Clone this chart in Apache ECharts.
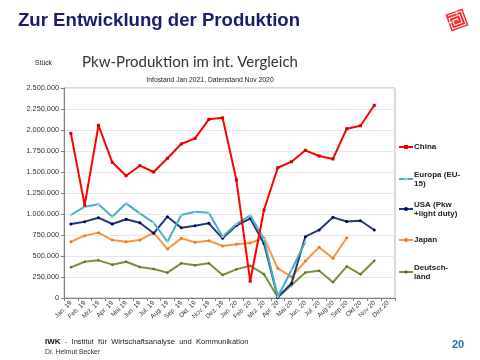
<!DOCTYPE html>
<html><head><meta charset="utf-8">
<script src="https://cdn.jsdelivr.net/npm/echarts@6/dist/echarts.min.js"></script>
<style>html,body{margin:0;padding:0;background:#fff}#c{width:480px;height:360px}</style>
</head><body><div id="c"></div>
<script>
var categories = ["Jan. 19","Feb. 19","Mrz. 19","Apr. 19","Mai 19","Jun. 19","Jul. 19","Aug. 19","Sep. 19","Okt. 19","Nov. 19","Dez. 19","Jan. 20","Feb. 20","Mrz. 20","Apr. 20","Mai 20","Jun. 20","Jul. 20","Aug 20","Sep 20","Okt 20","Nov 20","Dez 20"];
var china = [1960000,1105000,2055000,1615000,1456000,1575000,1500000,1663000,1833000,1900000,2127000,2145000,1405000,200000,1048000,1551000,1623000,1758000,1690000,1655000,2016000,2050000,2294000,null];
var europa = [988000,1087000,1115000,968000,1127000,1008000,896000,670000,988000,1027000,1015000,730000,880000,985000,700000,15000,333000,670000,null,null,null,null,null,null];
var usa = [881000,909000,956000,881000,937000,896000,770000,968000,837000,861000,889000,710000,863000,945000,650000,8000,175000,730000,810000,960000,910000,920000,810000,null];
var japan = [670000,742000,778000,690000,670000,690000,778000,583000,710000,663000,682000,619000,640000,655000,715000,353000,250000,440000,605000,472000,718000,null,null,null];
var deutschland = [365000,432000,448000,397000,432000,369000,345000,302000,413000,389000,413000,274000,341000,383000,284000,8000,155000,304000,325000,187000,377000,282000,444000,null];
var seriesNames = ["China","Europa (EU-15)","USA (Pkw +light duty)","Japan","Deutschland"];
var legendLabels = ["China","Europa (EU-\n15)","USA (Pkw\n+light duty)","Japan","Deutsch-\nland"];
var yTicks = {min:0, max:2500000, interval:250000};

var FF = '"Liberation Sans", Arial, sans-serif';
var chart = echarts.init(document.getElementById('c'), null, {renderer:'canvas'});

function fmt(v){ return String(v).replace(/\B(?=(\d{3})+(?!\d))/g,'.'); }

var colors = ['#ff0000','#4bacc6','#1f3a78','#f79646','#77933c'];
var symColors = ['#d00000','#8fd6ee','#000060','#f07820','#4e6e22'];
var symbols = ['rect','diamond','circle','circle','diamond'];
var dataSets = [china, europa, usa, japan, deutschland];

var series = dataSets.map(function(d,i){
  return {
    name: seriesNames[i], type:'line', data:d,
    symbol: symbols[i], symbolSize: 3,
    lineStyle:{color:colors[i], width:2},
    itemStyle:{color:symColors[i], borderWidth:0},
    z: 10 - i, animation:false
  };
});

var legendY = [147,179,209,240,272];
var legends = seriesNames.map(function(n,i){
  var two = legendLabels[i].indexOf('\n')>=0;
  return {
    left: 398, top: two ? legendY[i]-13.5 : legendY[i]-4.5, padding:0,
    data:[n], itemWidth:14, itemHeight:5, itemGap:0,
    formatter: function(){ return legendLabels[i]; },
    selectedMode:false,
    textStyle:{fontFamily:FF, fontSize:8, fontWeight:'bold', color:'#222', lineHeight:9,
      padding: two ? [9,0,0,-4] : [0,0,0,-4]}
  };
});

chart.setOption({
  backgroundColor:'#fff',
  animation:false,
  color: colors,
  grid:{left:64, right:85, top:88, bottom:62, show:true, borderColor:'#b4b4b4', borderWidth:1},
  legend: legends,
  xAxis:{type:'category', data:categories, boundaryGap:true,
    axisLine:{lineStyle:{color:'#808080'}},
    axisTick:{show:true, alignWithLabel:false, length:3, lineStyle:{color:'#808080'}},
    axisLabel:{rotate:45, fontFamily:FF, fontSize:6.5, color:'#333', margin:4, interval:0}
  },
  yAxis:{type:'value', min:yTicks.min, max:yTicks.max, interval:yTicks.interval,
    axisLine:{show:true, lineStyle:{color:'#808080'}},
    axisTick:{show:true, length:3, lineStyle:{color:'#808080'}},
    splitLine:{lineStyle:{color:'#e6e6e6', width:1}},
    axisLabel:{fontFamily:FF, fontSize:7.3, color:'#333', margin:5, formatter:fmt}
  },
  series: series,
  graphic:[
    {type:'text', left:18, top:11, style:{text:'Zur Entwicklung der Produktion', font:'bold 18.6px '+FF, fill:'#1a1a6e'}},
    {type:'text', x:190, y:62.5, style:{text:'Pkw-Produktion im int. Vergleich', font:'15px Lato, "Open Sans", sans-serif', fill:'#333', align:'center', verticalAlign:'middle'}},
    {type:'text', x:210, y:80, style:{text:'Infostand Jan 2021, Datenstand Nov 2020', font:'6.8px '+FF, fill:'#222', align:'center', verticalAlign:'middle'}},
    {type:'text', x:35, y:63, style:{text:'Stück', font:'6.8px '+FF, fill:'#222', verticalAlign:'middle'}},
    {type:'text', x:45, y:342, style:{text:'{b|IWK}  -  Institut  für  Wirtschaftsanalyse  und  Kommunikation', font:'7.6px '+FF, fill:'#222', verticalAlign:'middle',
      rich:{b:{fontWeight:'bold', fontSize:8, fontFamily:FF, fill:'#111'}}}},
    {type:'text', x:45, y:352, style:{text:'Dr. Helmut Becker', font:'6.8px '+FF, fill:'#333', verticalAlign:'middle'}},
    {type:'text', x:458, y:345, style:{text:'20', font:'bold 11px '+FF, fill:'#2c6bb0', align:'center', verticalAlign:'middle'}},
    {type:'group', x:457, y:20, rotation:0.35, children:[
      {type:'rect', shape:{x:-9,y:-9,width:18,height:18}, style:{fill:'#ee3333'}},
      {type:'polyline', shape:{points:[[-7,-7],[7,-7],[7,7],[-7,7],[-7,-4],[4,-4],[4,4],[-4,4],[-4,-1],[1,-1],[1,1]]}, style:{stroke:'#fff', fill:null, lineWidth:1}},
      {type:'line', shape:{x1:-9,y1:0,x2:-5,y2:0}, style:{stroke:'#fff', lineWidth:1}},
      {type:'line', shape:{x1:2,y1:-9,x2:2,y2:-5}, style:{stroke:'#fff', lineWidth:1}}
    ]}
  ]
});
</script></body></html>
